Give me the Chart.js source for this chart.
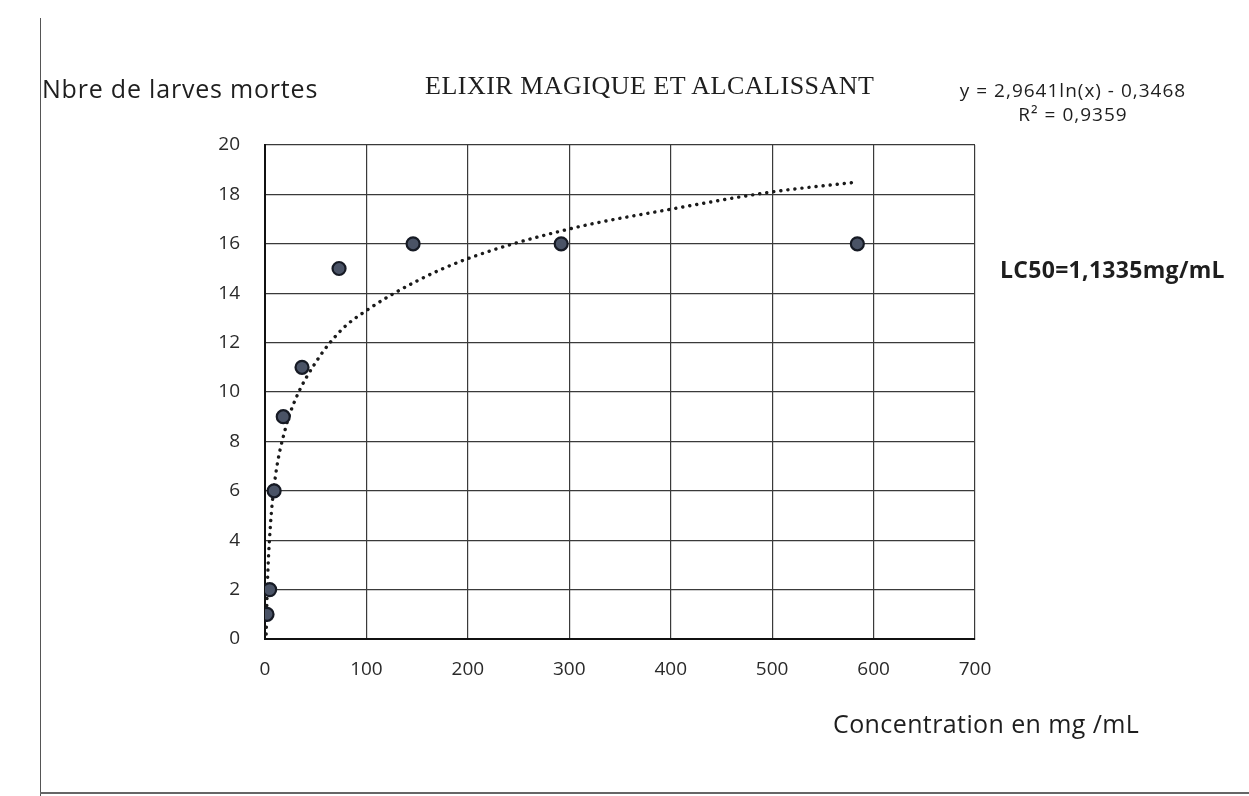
<!DOCTYPE html>
<html>
<head>
<meta charset="utf-8">
<script src="https://cdn.jsdelivr.net/npm/chart.js@4.4.1/dist/chart.umd.min.js"></script>
<style>
  html, body { margin: 0; padding: 0; background: #fff; }
  #wrap { position: relative; width: 1249px; height: 796px; overflow: hidden; }
  #page-edge { position: absolute; left: 40px; top: 18px; width: 0; height: 778px; border-left: 1.5px solid #555; }
  #page-bottom { position: absolute; left: 40px; top: 792px; width: 1209px; border-top: 2px solid #666; }
  .lbl { position: absolute; white-space: nowrap; color: #1e1e1e; }
  #ytitle { left: 42px; top: 71px; font: 25px "Open Sans", sans-serif; letter-spacing: 0.8px; }
  #title { left: 425px; top: 71px; font: 26px "Liberation Serif", serif; letter-spacing: 0.5px; }
  #eq { left: 955px; top: 78px; width: 236px; font: 19px "Open Sans", sans-serif; text-align: center; line-height: 24px; letter-spacing: 1px; }
  #lc50 { left: 1000px; top: 253px; font: bold 23px "Open Sans", sans-serif; letter-spacing: 0.3px; }
  #xtitle { left: 833px; top: 706px; font: 25px "Open Sans", sans-serif; letter-spacing: 0.4px; }
</style>
</head>
<body>
<div id="wrap">
  <canvas id="chart" width="1249" height="796"></canvas>
  <div id="page-edge"></div>
  <div id="page-bottom"></div>
  <div class="lbl" id="ytitle">Nbre de larves mortes</div>
  <div class="lbl" id="title">ELIXIR MAGIQUE ET ALCALISSANT</div>
  <div class="lbl" id="eq">y = 2,9641ln(x) - 0,3468<br>R² = 0,9359</div>
  <div class="lbl" id="lc50">LC50=1,1335mg/mL</div>
  <div class="lbl" id="xtitle">Concentration en mg /mL</div>
</div>
<script>
// measured points (concentration mg/mL, dead larvae)
const concentrations = [2, 4.6, 9, 18, 36.5, 73, 146, 292, 584];
const deadLarvae = [1, 2, 6, 9, 11, 15, 16, 16, 16];

// logarithmic trend line
const trendX = [1.2, 2.3, 5, 10, 20, 30, 50, 75, 100, 150, 200, 300, 400, 500, 584];
const trendY = [0.2, 2.1, 4.4, 6.5, 8.5, 9.7, 11.2, 12.5, 13.3, 14.5, 15.4, 16.6, 17.4, 18.1, 18.5];

const xTicks = [0, 100, 200, 300, 400, 500, 600, 700];
const yTicks = [0, 2, 4, 6, 8, 10, 12, 14, 16, 18, 20];

const PLOT_LEFT = 265, PLOT_TOP = 145, PLOT_RIGHT = 975, PLOT_BOTTOM = 639;

const ctx = document.getElementById('chart').getContext('2d');
new Chart(ctx, {
  type: 'scatter',
  data: {
    datasets: [
      {
        label: 'Tendance',
        data: trendX.map((x, i) => ({ x, y: trendY[i] })),
        showLine: true,
        borderColor: '#1a1a1a',
        borderWidth: 3.4,
        borderDash: [0.1, 7],
        borderCapStyle: 'round',
        cubicInterpolationMode: 'monotone',
        pointRadius: 0,
        order: 2
      },
      {
        label: 'Larves mortes',
        data: concentrations.map((x, i) => ({ x, y: deadLarvae[i] })),
        pointRadius: 6.5,
        pointBackgroundColor: '#4a5366',
        pointBorderColor: '#161a24',
        pointBorderWidth: 2.2,
        order: 1
      }
    ]
  },
  options: {
    responsive: false,
    animation: false,
    layout: { padding: { left: 0, top: PLOT_TOP, right: 1249 - PLOT_RIGHT, bottom: 0 } },
    plugins: { legend: { display: false }, tooltip: { enabled: false } },
    scales: {
      x: {
        type: 'linear',
        min: 0, max: 700,
        afterFit: s => { s.height = 796 - PLOT_BOTTOM; },
        afterBuildTicks: s => { s.ticks = xTicks.map(v => ({ value: v })); },
        grid: { color: '#3a3a3a', lineWidth: 1.2, drawTicks: false },
        border: { color: '#111', width: 2 },
        ticks: { color: '#2a2a2a', padding: 19, font: { family: 'Open Sans', size: 19 } }
      },
      y: {
        min: 0, max: 20,
        afterFit: s => { s.width = PLOT_LEFT; },
        afterBuildTicks: s => { s.ticks = yTicks.map(v => ({ value: v })); },
        grid: { color: '#3a3a3a', lineWidth: 1.2, drawTicks: false },
        border: { color: '#111', width: 2 },
        ticks: { color: '#2a2a2a', padding: 25, font: { family: 'Open Sans', size: 19 } }
      }
    }
  }
});
</script>
</body>
</html>
